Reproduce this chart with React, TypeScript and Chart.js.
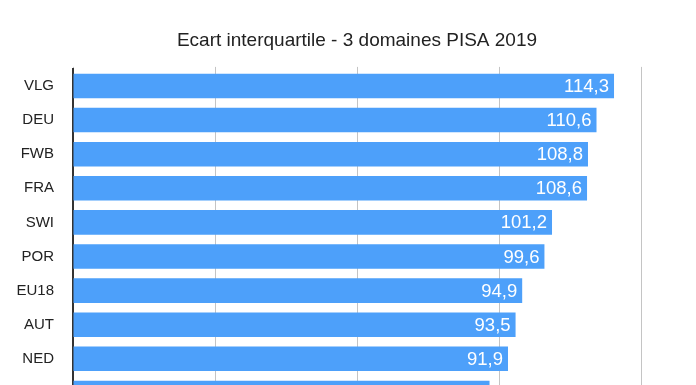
import React, { useEffect, useRef } from "react";
import { Chart, registerables } from "chart.js";

Chart.register(...registerables);

const TITLE = "Ecart interquartile - 3 domaines PISA 2019";
const categories = ["VLG", "DEU", "FWB", "FRA", "SWI", "POR", "EU18", "AUT", "NED", "LUX"];
const values = [114.3, 110.6, 108.8, 108.6, 101.2, 99.6, 94.9, 93.5, 91.9, 88.0];
const xTicks = [0, 30, 60, 90, 120];

const FONT = "'Liberation Sans', Arial, Helvetica, sans-serif";

const titlePlugin = {
  id: "centerTitle",
  afterDraw(chart: any) {
    const { ctx, chartArea } = chart;
    ctx.save();
    ctx.font = `19px ${FONT}`;
    ctx.fillStyle = "#222";
    ctx.textAlign = "center";
    ctx.textBaseline = "middle";
    ctx.fillText(TITLE, (chartArea.left + chartArea.right) / 2, 32.5);
    ctx.restore();
  },
};

const valueLabels = {
  id: "valueLabels",
  afterDatasetsDraw(chart: any) {
    const { ctx } = chart;
    const meta = chart.getDatasetMeta(0);
    ctx.save();
    ctx.font = `18.5px ${FONT}`;
    ctx.fillStyle = "#ffffff";
    ctx.textAlign = "right";
    ctx.textBaseline = "middle";
    meta.data.forEach((bar: any, i: number) => {
      const txt = values[i].toFixed(1).replace(".", ",");
      ctx.fillText(txt, bar.x - 5, bar.y + 1);
    });
    ctx.restore();
  },
};

export default function App() {
  const ref = useRef<HTMLCanvasElement | null>(null);
  useEffect(() => {
    document.documentElement.style.overflow = "hidden";
    const chart = new Chart(ref.current as HTMLCanvasElement, {
      type: "bar",
      data: {
        labels: categories,
        datasets: [
          {
            data: values,
            backgroundColor: "#4da0fa",
            borderWidth: 0,
          },
        ],
      },
      options: {
        indexAxis: "y",
        animation: false,
        responsive: false,
        layout: { padding: { top: 58.9, bottom: 24.6, left: 0, right: 47 } },
        plugins: {
          legend: { display: false },
          title: { display: false },
          tooltip: { enabled: false },
        },
        scales: {
          x: {
            position: "top",
            min: 0,
            max: 120,
            afterBuildTicks: (scale: any) => {
              scale.ticks = xTicks.map((v) => ({ value: v }));
            },
            ticks: { display: false },
            grid: { color: "#c4c4c4", lineWidth: 1, drawTicks: true, tickLength: 2 },
            border: { display: false },
          },
          y: {
            afterFit: (scale: any) => {
              scale.width = 65;
            },
            ticks: {
              color: "#222",
              font: { family: FONT, size: 15 },
              padding: 19,
            },
            grid: { display: false, drawTicks: false },
            border: { display: true, color: "#333", width: 2 },
          },
        },
      },
      plugins: [titlePlugin, valueLabels],
    });
    return () => chart.destroy();
  }, []);
  return (
    <div
      style={{
        position: "fixed",
        top: 8,
        left: 8,
        width: 680,
        height: 377,
        overflow: "hidden",
      }}
    >
      <canvas ref={ref} width={680} height={430} style={{ display: "block" }} />
    </div>
  );
}
